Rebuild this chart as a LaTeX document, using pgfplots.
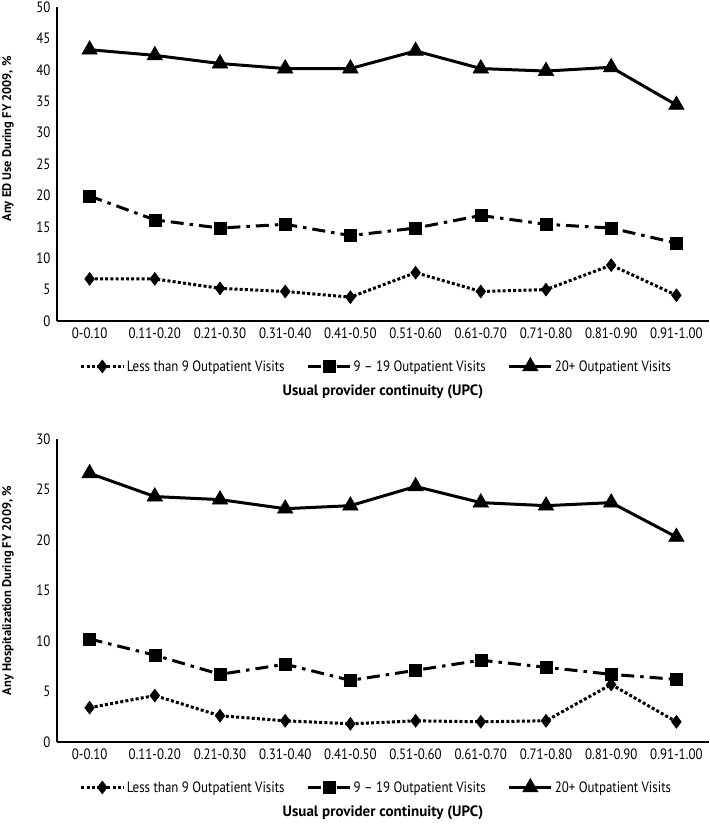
\documentclass[border=0pt]{standalone}
\usepackage{fontspec}
\setmainfont{PT Sans}[FakeStretch=0.86]
\newfontfamily\labfont{PT Sans}
\usepackage{pgfplots}
\pgfplotsset{compat=1.18}
\pgfplotsset{
  upc/.style={
    scale only axis, width=652pt,
    xmin=-0.5, xmax=9.5,
    axis x line*=bottom, axis y line*=left,
    axis line style={line width=2.6pt},
    xtick={0,...,9},
    xticklabels={0-0.10,0.11-0.20,0.21-0.30,0.31-0.40,0.41-0.50,0.51-0.60,0.61-0.70,0.71-0.80,0.81-0.90,0.91-1.00},
    major tick length=0pt,
    tick label style={font=\fontsize{15}{17}\selectfont},
    /pgf/number format/assume math mode=true,
    xticklabel style={yshift=-3pt},
    yticklabel style={xshift=-3pt},
    xlabel={Usual provider continuity (UPC)},
    xlabel style={font=\labfont\fontsize{15}{17}\selectfont\bfseries, at={(axis description cs:0.5,0)}, anchor=center, yshift=-71pt},
    ylabel style={font=\labfont\fontsize{12.5}{15}\selectfont\bfseries, anchor=center},
    legend columns=3,
    legend style={draw=none, fill=none, at={(axis description cs:0.49,0)}, anchor=center, yshift=-45pt,
      font=\fontsize{15}{17}\selectfont,
      /tikz/every even column/.append style={column sep=20pt}},
    legend image code/.code={\draw[mark repeat=2,mark phase=2,#1] plot coordinates {(0pt,0pt) (21pt,0pt) (42pt,0pt)};},
    clip=false,
  },
  s1/.style={black, line width=3pt, dash pattern=on 3pt off 2.2pt, mark=diamond*, mark size=6.5pt, mark options={solid, line width=0.5pt}},
  s2/.style={black, line width=3pt, dash pattern=on 13pt off 6pt on 3.5pt off 6pt, mark=square*, mark size=6pt, mark options={solid, line width=0.5pt}},
  s3/.style={black, line width=3pt, solid, mark=triangle*, mark size=9pt, mark options={solid, line width=0.5pt}},
}
\begin{document}
\begin{tikzpicture}
\useasboundingbox (0pt,0pt) rectangle (709pt,-824pt);
\begin{axis}[upc, at={(57pt,-321pt)}, anchor=south west, height=314pt,
  ymin=0, ymax=50, ytick={0,5,...,50},
  ylabel={Any ED Use During FY 2009, \%},
  ylabel style={at={(axis description cs:-0.075,0.58)}}]
\addplot[s1] coordinates {(0,6.7) (1,6.7) (2,5.2) (3,4.7) (4,3.8) (5,7.7) (6,4.7) (7,5.0) (8,8.9) (9,4.1)};
\addlegendentry{Less than 9 Outpatient Visits}
\addplot[s2] coordinates {(0,19.9) (1,16.1) (2,14.8) (3,15.4) (4,13.6) (5,14.8) (6,16.8) (7,15.4) (8,14.8) (9,12.4)};
\addlegendentry{9 – 19 Outpatient Visits}
\addplot[s3] coordinates {(0,43.2) (1,42.3) (2,41.0) (3,40.2) (4,40.2) (5,43.0) (6,40.2) (7,39.8) (8,40.4) (9,34.4)};
\addlegendentry{20+ Outpatient Visits}
\end{axis}
\begin{axis}[upc, at={(57pt,-742pt)}, anchor=south west, height=303pt,
  ymin=0, ymax=30, ytick={0,5,...,30},
  ylabel={Any Hospitalization During FY 2009, \%},
  ylabel style={at={(axis description cs:-0.075,0.5)}}]
\addplot[s1] coordinates {(0,3.4) (1,4.6) (2,2.6) (3,2.1) (4,1.8) (5,2.1) (6,2.0) (7,2.1) (8,5.7) (9,2.0)};
\addlegendentry{Less than 9 Outpatient Visits}
\addplot[s2] coordinates {(0,10.2) (1,8.6) (2,6.7) (3,7.7) (4,6.1) (5,7.1) (6,8.1) (7,7.4) (8,6.7) (9,6.2)};
\addlegendentry{9 – 19 Outpatient Visits}
\addplot[s3] coordinates {(0,26.6) (1,24.3) (2,24.0) (3,23.1) (4,23.4) (5,25.3) (6,23.7) (7,23.4) (8,23.7) (9,20.3)};
\addlegendentry{20+ Outpatient Visits}
\end{axis}
\end{tikzpicture}
\end{document}
